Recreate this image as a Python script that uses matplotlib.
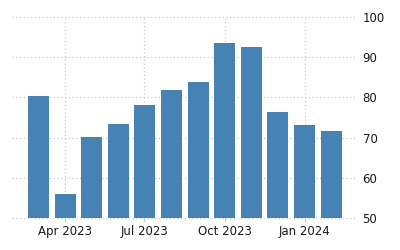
import matplotlib
matplotlib.use("Agg")
import matplotlib.pyplot as plt
import datetime as dt

months = ["2023-03", "2023-04", "2023-05", "2023-06", "2023-07", "2023-08",
          "2023-09", "2023-10", "2023-11", "2023-12", "2024-01", "2024-02"]
values = [80.4, 56.0, 70.1, 73.4, 78.1, 81.8, 83.8, 93.5, 92.5, 76.4, 73.1, 71.6]
yticks = [50, 60, 70, 80, 90, 100]
xtick_months = ["2023-04", "2023-07", "2023-10", "2024-01"]
xtick_labels = ["Apr 2023", "Jul 2023", "Oct 2023", "Jan 2024"]

def to_date(s):
    y, m = s.split("-")
    return dt.datetime(int(y), int(m), 1)

dates = [to_date(m) for m in months]

fig = plt.figure(figsize=(4, 2.5), dpi=100)
ax = fig.add_axes([0.03, 0.128, 0.8625, 0.804])
ax.bar(dates, [v - 50 for v in values], bottom=50, width=24, color="#4682b4", zorder=3)

ax.set_ylim(50, 100)
ax.set_xlim(dt.datetime(2023, 1, 30), dt.datetime(2024, 3, 1))
ax.set_yticks(yticks)
ax.set_xticks([to_date(m) for m in xtick_months])
ax.set_xticklabels(xtick_labels)
ax.yaxis.tick_right()
for s in ax.spines.values():
    s.set_visible(False)
ax.set_axisbelow(True)
ax.grid(True, color="#c8c8c8", linestyle=(0, (1, 2)), linewidth=0.9)
for gl in ax.get_xgridlines() + ax.get_ygridlines():
    gl.set_clip_on(False)
ax.tick_params(axis="y", length=0, pad=4, labelsize=8.5, labelcolor="#1a1a1a")
ax.tick_params(axis="x", length=3, color="#c8c8c8", pad=2, labelsize=8.5, labelcolor="#1a1a1a")
for lab in ax.get_yticklabels():
    lab.set_horizontalalignment("left")

fig.savefig("out.png", dpi=100)
